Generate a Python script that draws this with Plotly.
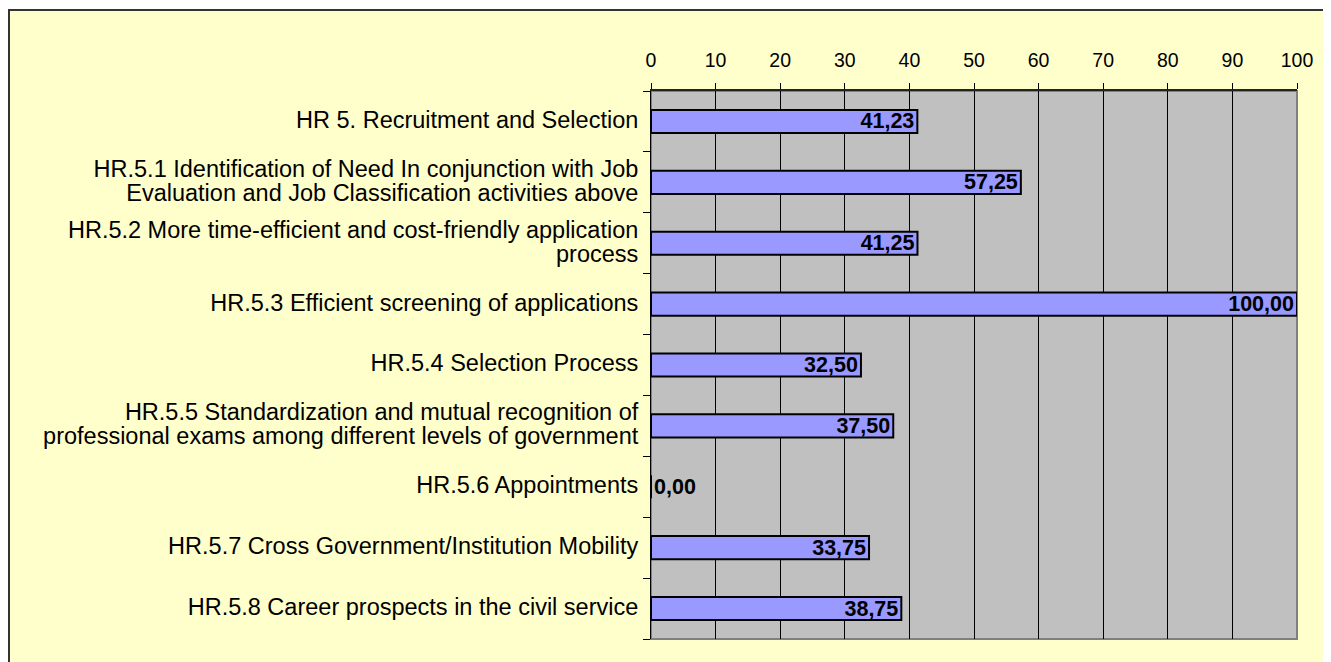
import plotly.graph_objects as go

categories = [
    "HR 5. Recruitment and Selection",
    "HR.5.1 Identification of Need In conjunction with Job<br>Evaluation and Job Classification activities above",
    "HR.5.2 More time-efficient and cost-friendly application<br>process",
    "HR.5.3 Efficient screening of applications",
    "HR.5.4 Selection Process",
    "HR.5.5 Standardization and mutual recognition of<br>professional exams among different levels of government",
    "HR.5.6 Appointments",
    "HR.5.7 Cross Government/Institution Mobility",
    "HR.5.8 Career prospects in the civil service",
]
values = [41.23, 57.25, 41.25, 100.00, 32.50, 37.50, 0.00, 33.75, 38.75]
labels = [f"{v:.2f}".replace(".", ",") for v in values]

# wide label text with tight line spacing: the base tick font sets the spacing,
# the span sets the glyph size
ticktext = [f"<span style='font-size:23.5px'>{c}</span>" for c in categories]

fig = go.Figure(go.Bar(
    y=categories,
    x=values,
    orientation="h",
    marker=dict(color="#9999FF", line=dict(color="black", width=2)),
    text=labels,
    textposition=["inside" if v > 0 else "outside" for v in values],
    insidetextanchor="end",
    textfont=dict(family="Liberation Sans", size=21.5, color="black", weight="bold"),
    constraintext="none",
    cliponaxis=False,
))

# the page body adds 8px, so the plot area sits at (651, 91) in the window, 646 x 548
pw, ph = 646, 548
fig.add_shape(type="rect", xref="paper", yref="paper", layer="below",
              x0=(9 - 651) / pw, x1=(1328 - 651) / pw,
              y0=(639 - 666) / ph, y1=(639 - 10) / ph,
              fillcolor="#FFFFCC", line=dict(color="#333333", width=2))
fig.add_shape(type="rect", xref="paper", yref="paper", layer="below",
              x0=0, x1=1, y0=0, y1=1,
              fillcolor="#C0C0C0", line=dict(color="#808080", width=2))

fig.update_layout(
    width=1323, height=654,
    margin=dict(l=643, r=34, t=83, b=23),
    paper_bgcolor="white",
    plot_bgcolor="rgba(0,0,0,0)",
    bargap=0.62,
    showlegend=False,
    font=dict(family="Liberation Sans", size=18, color="black"),
    xaxis=dict(side="top", range=[0, 100], dtick=10, ticks="outside", ticklen=6,
               tickcolor="black", showgrid=True, gridcolor="black", gridwidth=1,
               showline=True, linecolor="#222222", linewidth=2, zeroline=False,
               tickfont=dict(size=19.5), ticklabelstandoff=8),
    yaxis=dict(autorange="reversed", tickson="boundaries", ticks="outside", ticklen=7,
               tickcolor="black", showgrid=False, showline=True, linecolor="black",
               linewidth=1, tickfont=dict(size=18.5), ticklabelstandoff=8,
               tickmode="array", tickvals=categories, ticktext=ticktext),
)

fig.write_html("out.html")
